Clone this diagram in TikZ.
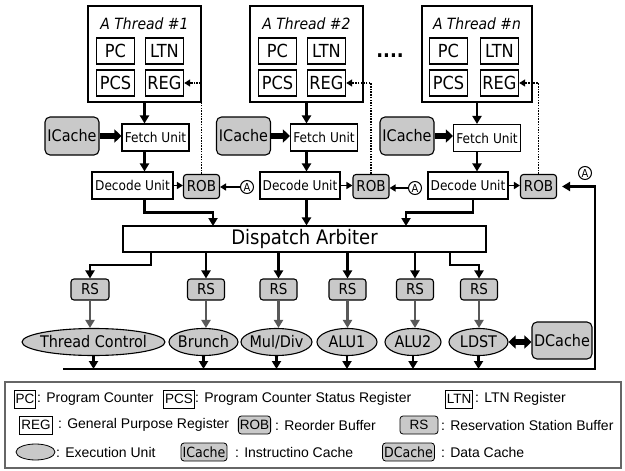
\documentclass[tikz,border=0pt]{standalone}
\usepackage{fontspec}
\setmainfont{DejaVu Sans Condensed}
\newfontfamily\legendfont{Liberation Sans}
\usepackage{tikz}
\usetikzlibrary{arrows.meta}
\usetikzlibrary{shapes.geometric}

\definecolor{shade}{gray}{0.79}

\begin{document}
\begin{tikzpicture}[x=1pt,y=-1pt,
  >={Triangle[length=8pt,width=9pt]},
  thread/.style={draw=black, line width=2pt, minimum width=113pt, minimum height=96pt},
  title/.style={font=\fontsize{15.5}{15.5}\selectfont\itshape},
  reg/.style={draw=black, line width=1.4pt, minimum width=38pt, minimum height=26pt, inner sep=0pt, font=\fontsize{18}{18}\selectfont},
  unit/.style={draw=black, line width=1.1pt, minimum height=27pt, inner sep=0pt, font=\fontsize{13.5}{13.5}\selectfont},
  cache/.style={draw=black, line width=1.1pt, fill=shade, rounded corners=5pt, inner sep=0pt, font=\fontsize{16}{16}\selectfont},
  buf/.style={draw=black, line width=1.1pt, fill=shade, rounded corners=3pt, minimum height=24pt, inner sep=0pt, font=\fontsize{15}{15}\selectfont},
  exec/.style={ellipse, draw=black, line width=1.1pt, fill=shade, minimum height=27pt, inner xsep=-6pt, inner ysep=0pt, font=\fontsize{16}{16}\selectfont},
  tag/.style={circle, draw=black, line width=1pt, minimum size=13pt, inner sep=0pt, font=\fontsize{11}{11}\selectfont},
  flow/.style={line width=2.8pt, ->},
  feed/.style={line width=2.8pt, draw=black!65, ->},
  small/.style={line width=1.5pt, -{Triangle[length=6pt,width=7pt]}},
  fb/.style={line width=1.5pt, dash pattern=on 1.5pt off 1.2pt, -{Triangle[length=6pt,width=7pt]}},
  block/.style={line width=6pt, -{Triangle[length=7pt,width=13pt]}},
  dblock/.style={line width=6pt, {Triangle[length=7pt,width=13pt]}-{Triangle[length=7pt,width=13pt]}},
  lkey/.style={draw=black, line width=0.8pt, inner sep=1.5pt, minimum height=18pt, font=\legendfont\fontsize{13.5}{13.5}\selectfont},
  lbuf/.style={lkey, fill=shade, rounded corners=3pt},
  ldesc/.style={anchor=west, inner sep=0pt, font=\legendfont\fontsize{14}{14}\selectfont}]
  \useasboundingbox (0,0) rectangle (625,471);

  % threads
  \node[thread] (t1) at (144.5,54) {};
  \node[title] (h1) at (144.5,24) {A Thread \#1};
  \node[reg] (pc1) at (115.5,51) {PC};
  \node[reg] (ltn1) at (164.5,51) {LTN};
  \node[reg] (pcs1) at (115.5,83) {PCS};
  \node[reg] (reg1) at (164.5,83) {REG};
  \node[thread] (t2) at (306.5,54) {};
  \node[title] (h2) at (306.5,24) {A Thread \#2};
  \node[reg] (pc2) at (277.5,51) {PC};
  \node[reg] (ltn2) at (326.5,51) {LTN};
  \node[reg] (pcs2) at (277.5,83) {PCS};
  \node[reg] (reg2) at (326.5,83) {REG};
  \node[font=\fontsize{20}{20}\selectfont\bfseries] (dots) at (390,56) {....};
  \node[thread, minimum width=110pt] (tn) at (477,54) {};
  \node[title] (hn) at (477,24) {A Thread \#n};
  \node[reg] (pcn) at (448.5,51) {PC};
  \node[reg] (ltnn) at (499.5,51) {LTN};
  \node[reg] (pcsn) at (448.5,83) {PCS};
  \node[reg] (regn) at (499.5,83) {REG};

  % front end
  \node[cache, minimum width=54pt, minimum height=38pt] (ic1) at (72,136) {ICache};
  \node[unit, minimum width=67pt] (f1) at (155.5,137.5) {Fetch Unit};
  \node[unit, minimum width=81pt] (d1) at (132.5,185.5) {Decode Unit};
  \node[buf, minimum width=36pt] (r1) at (201.5,186.5) {ROB};
  \node[tag] (a1) at (247,187) {A};
  \node[cache, minimum width=54pt, minimum height=38pt] (ic2) at (243.5,136) {ICache};
  \node[unit, minimum width=67pt] (f2) at (324,137.5) {Fetch Unit};
  \node[unit, minimum width=80pt] (d2) at (300,185.5) {Decode Unit};
  \node[buf, minimum width=36pt] (r2) at (371,186.5) {ROB};
  \node[tag] (a2) at (415,188) {A};
  \node[cache, minimum width=54pt, minimum height=38pt] (icn) at (407,136) {ICache};
  \node[unit, minimum width=67pt] (fn) at (487,138) {Fetch Unit};
  \node[unit, minimum width=80pt] (dn) at (468,185.5) {Decode Unit};
  \node[buf, minimum width=36pt] (rn) at (538.5,186.5) {ROB};
  \node[tag] (an) at (585,173) {A};

  \draw[flow] (t1.south) -- (t1.south |- f1.north);
  \draw[flow] (t1.south |- f1.south) -- (t1.south |- d1.north);
  \draw[flow] (t2.south) -- (t2.south |- f2.north);
  \draw[flow] (t2.south |- f2.south) -- (t2.south |- d2.north);
  \draw[flow] (tn.south) -- (tn.south |- fn.north);
  \draw[flow] (tn.south |- fn.south) -- (tn.south |- dn.north);
  \draw[block] (ic1.east) -- (ic1.east -| f1.west);
  \draw[block] (ic2.east) -- (ic2.east -| f2.west);
  \draw[block] (icn.east) -- (icn.east -| fn.west);
  \draw[small] (d1.east) -- (d1.east -| r1.west);
  \draw[small] (d2.east) -- (d2.east -| r2.west);
  \draw[small] (dn.east) -- (dn.east -| rn.west);
  \draw[small] (a1.west) -- (a1.west -| r1.east);
  \draw[small] (a2.west) -- (a2.west -| r2.east);
  \draw[fb] (r1.north) |- (reg1.east);
  \draw[fb] (r2.north) |- (reg2.east);
  \draw[fb] (rn.north) |- (regn.east);

  % dispatch and execution
  \node[draw=black, line width=1.1pt, minimum width=363pt, minimum height=26pt, font=\fontsize{20}{20}\selectfont] (disp) at (304.5,239) {Dispatch Arbiter};
  \coordinate (in1) at (213,226);
  \coordinate (inn) at (406,226);
  \draw[flow] (t1.south |- d1.south) -- ++(0,13) -| (in1);
  \draw[flow] (t2.south |- d2.south) -- (t2.south |- disp.north);
  \draw[flow] ([xshift=5pt]dn.south) -- ++(0,13) -| (inn);

  \node[buf, minimum width=38pt, minimum height=21pt] (rs1) at (90,289.5) {RS};
  \node[buf, minimum width=37pt, minimum height=21pt] (rs2) at (206,289.5) {RS};
  \node[buf, minimum width=37pt, minimum height=21pt] (rs3) at (278.5,289.5) {RS};
  \node[buf, minimum width=37pt, minimum height=21pt] (rs4) at (347.5,289.5) {RS};
  \node[buf, minimum width=37pt, minimum height=21pt] (rs5) at (415,289.5) {RS};
  \node[buf, minimum width=37pt, minimum height=21pt] (rs6) at (479,289.5) {RS};
  \coordinate (out1) at (151,252);
  \coordinate (out6) at (450,252);
  \draw[flow] (out1) -- ++(0,13) -| (rs1.north);
  \draw[flow] (rs2 |- disp.south) -- (rs2.north);
  \draw[flow] (rs3 |- disp.south) -- (rs3.north);
  \draw[flow] (rs4 |- disp.south) -- (rs4.north);
  \draw[flow] (rs5 |- disp.south) -- (rs5.north);
  \draw[flow] (out6) -- ++(0,13) -| (rs6.north);

  \node[exec, minimum width=143pt] (e1) at (93.5,342) {Thread Control};
  \node[exec, minimum width=69pt] (e2) at (203.5,342) {Brunch};
  \node[exec, minimum width=71pt] (e3) at (276.5,342) {Mul/Div};
  \node[exec, minimum width=60pt] (e4) at (347,342) {ALU1};
  \node[exec, minimum width=56pt] (e5) at (413,342) {ALU2};
  \node[exec, minimum width=59pt] (e6) at (478.5,342) {LDST};
  \node[cache, minimum width=60pt, minimum height=37pt] (dc) at (562,340.5) {DCache};
  \draw[feed] (rs1.south) -- (rs1.south |- e1.north);
  \draw[feed] (rs2.south) -- (rs2.south |- e2.north);
  \draw[feed] (rs3.south) -- (rs3.south |- e3.north);
  \draw[feed] (rs4.south) -- (rs4.south |- e4.north);
  \draw[feed] (rs5.south) -- (rs5.south |- e5.north);
  \draw[feed] (rs6.south) -- (rs6.south |- e6.north);
  \draw[dblock] (e6.east) -- (e6.east -| dc.west);

  % result bus back to the ROBs
  \coordinate (busL) at (63,369);
  \coordinate (busR) at (595,369);
  \draw[flow] (e1.south) -- (e1.south |- busL);
  \draw[flow] (e2.south) -- (e2.south |- busL);
  \draw[flow] (e3.south) -- (e3.south |- busL);
  \draw[flow] (e4.south) -- (e4.south |- busL);
  \draw[flow] (e5.south) -- (e5.south |- busL);
  \draw[flow] (e6.south) -- (e6.south |- busL);
  \draw[flow, shorten >=5pt] (busL) -- (busR) |- (rn.east);

  % legend
  \draw[draw=black!60, line width=1.5pt] (5,382) rectangle (621,468);
  \node[lkey] (kpc) at (25,399) {PC};
  \node[ldesc] (lpc) at (37,399) {: Program Counter};
  \node[lkey] (kpcs) at (179,399) {PCS};
  \node[ldesc] (lpcs) at (195,399) {: Program Counter Status Register};
  \node[lkey] (kltn) at (459,399) {LTN};
  \node[ldesc] (lltn) at (475,399) {: LTN Register};
  \node[lkey] (kreg) at (36,425) {REG};
  \node[ldesc] (lreg) at (58,425) {: General Purpose Register};
  \node[lbuf] (krob) at (254.5,425) {ROB};
  \node[ldesc] (lrob) at (275,425) {: Reorder Buffer};
  \node[lbuf, minimum width=38pt] (krs) at (419,425) {RS};
  \node[ldesc] (lrs) at (441,425) {: Reservation Station Buffer};
  \node[ellipse, draw=black, line width=0.8pt, fill=shade, minimum width=39pt, minimum height=16pt] (keu) at (35.5,452) {};
  \node[ldesc] (leu) at (56,452) {: Execution Unit};
  \node[lbuf, font=\fontsize{14}{14}\selectfont] (kic) at (204,452) {ICache};
  \node[ldesc] (lic) at (235,452) {: Instructino Cache};
  \node[lbuf, font=\fontsize{14}{14}\selectfont] (kdc) at (408.5,452) {DCache};
  \node[ldesc] (ldc) at (441,452) {: Data Cache};
\end{tikzpicture}
\end{document}
